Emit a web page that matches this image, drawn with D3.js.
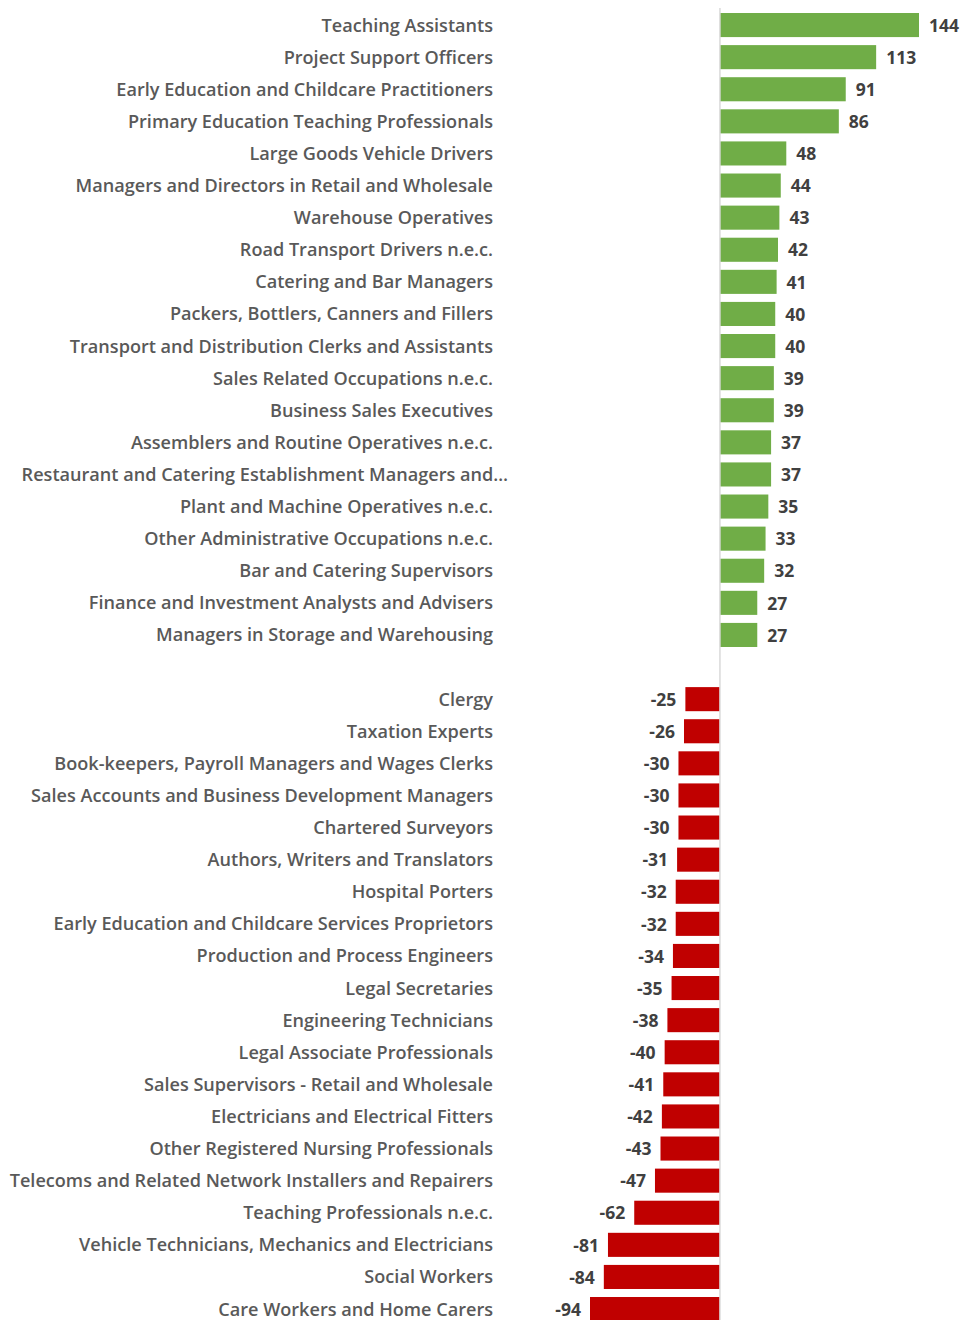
<!DOCTYPE html>
<html>
<head>
<meta charset="utf-8">
<script src="https://cdn.jsdelivr.net/npm/d3@7"></script>
<style>
  body { margin: 0; background: #fff; }
  svg { display: block; font-family: "Open Sans", sans-serif; }
</style>
</head>
<body>
<div id="chart"></div>
<script>
// growing occupations
var gainLabels = [
  "Teaching Assistants", "Project Support Officers", "Early Education and Childcare Practitioners",
  "Primary Education Teaching Professionals", "Large Goods Vehicle Drivers",
  "Managers and Directors in Retail and Wholesale", "Warehouse Operatives", "Road Transport Drivers n.e.c.",
  "Catering and Bar Managers", "Packers, Bottlers, Canners and Fillers",
  "Transport and Distribution Clerks and Assistants", "Sales Related Occupations n.e.c.",
  "Business Sales Executives", "Assemblers and Routine Operatives n.e.c.",
  "Restaurant and Catering Establishment Managers and…", "Plant and Machine Operatives n.e.c.",
  "Other Administrative Occupations n.e.c.", "Bar and Catering Supervisors",
  "Finance and Investment Analysts and Advisers", "Managers in Storage and Warehousing"
];
var gainValues = [144, 113, 91, 86, 48, 44, 43, 42, 41, 40, 40, 39, 39, 37, 37, 35, 33, 32, 27, 27];

// shrinking occupations
var lossLabels = [
  "Clergy", "Taxation Experts", "Book-keepers, Payroll Managers and Wages Clerks",
  "Sales Accounts and Business Development Managers", "Chartered Surveyors",
  "Authors, Writers and Translators", "Hospital Porters", "Early Education and Childcare Services Proprietors",
  "Production and Process Engineers", "Legal Secretaries", "Engineering Technicians",
  "Legal Associate Professionals", "Sales Supervisors - Retail and Wholesale",
  "Electricians and Electrical Fitters", "Other Registered Nursing Professionals",
  "Telecoms and Related Network Installers and Repairers", "Teaching Professionals n.e.c.",
  "Vehicle Technicians, Mechanics and Electricians", "Social Workers", "Care Workers and Home Carers"
];
var lossValues = [-25, -26, -30, -30, -30, -31, -32, -32, -34, -35, -38, -40, -41, -42, -43, -47, -62, -81, -84, -94];

var W = 961, H = 1320;

var rows = gainLabels.map(function(d, i){ return {key: "g" + i, label: d, value: gainValues[i]}; })
  .concat([{key: "gap", label: "", value: null}])
  .concat(lossLabels.map(function(d, i){ return {key: "l" + i, label: d, value: lossValues[i]}; }));

var svg = d3.select("#chart").append("svg")
  .attr("width", W)
  .attr("height", H);

var x = d3.scaleLinear()
  .domain([-94, 144])
  .range([590, 919]);

var y = d3.scaleBand()
  .domain(rows.map(function(d){ return d.key; }))
  .range([9, 9 + 41 * 32.1])
  .paddingInner(0.25)
  .paddingOuter(0.125);

var bars = rows.filter(function(d){ return d.value !== null; });

svg.append("g").selectAll("rect")
  .data(bars)
  .enter().append("rect")
  .attr("x", function(d){ return x(Math.min(0, d.value)); })
  .attr("y", function(d){ return y(d.key); })
  .attr("width", function(d){ return Math.abs(x(d.value) - x(0)); })
  .attr("height", y.bandwidth())
  .attr("fill", function(d){ return d.value > 0 ? "#70ad47" : "#c00000"; });

// zero line
svg.append("line")
  .attr("x1", x(0)).attr("x2", x(0))
  .attr("y1", 8).attr("y2", H)
  .attr("stroke", "#d9d9d9")
  .attr("stroke-width", 1.5);

// category labels
svg.append("g").selectAll("text")
  .data(bars)
  .enter().append("text")
  .attr("x", 493)
  .attr("y", function(d){ return y(d.key) + y.bandwidth() / 2; })
  .attr("dy", "0.36em")
  .attr("text-anchor", "end")
  .attr("font-size", 18.1)
  .attr("font-weight", 600)
  .attr("fill", "#595959")
  .text(function(d){ return d.label; })
  .filter(function(d){ return d.label.indexOf("…") > -1; })
  .attr("x", 508);

// value labels
svg.append("g").selectAll("text")
  .data(bars)
  .enter().append("text")
  .attr("x", function(d){ return d.value > 0 ? x(d.value) + 10 : x(d.value) - 9; })
  .attr("y", function(d){ return y(d.key) + y.bandwidth() / 2; })
  .attr("dy", "0.38em")
  .attr("text-anchor", function(d){ return d.value > 0 ? "start" : "end"; })
  .attr("font-size", 17.5)
  .attr("font-weight", "bold")
  .attr("fill", "#404040")
  .text(function(d){ return d.value; });
</script>
</body>
</html>
